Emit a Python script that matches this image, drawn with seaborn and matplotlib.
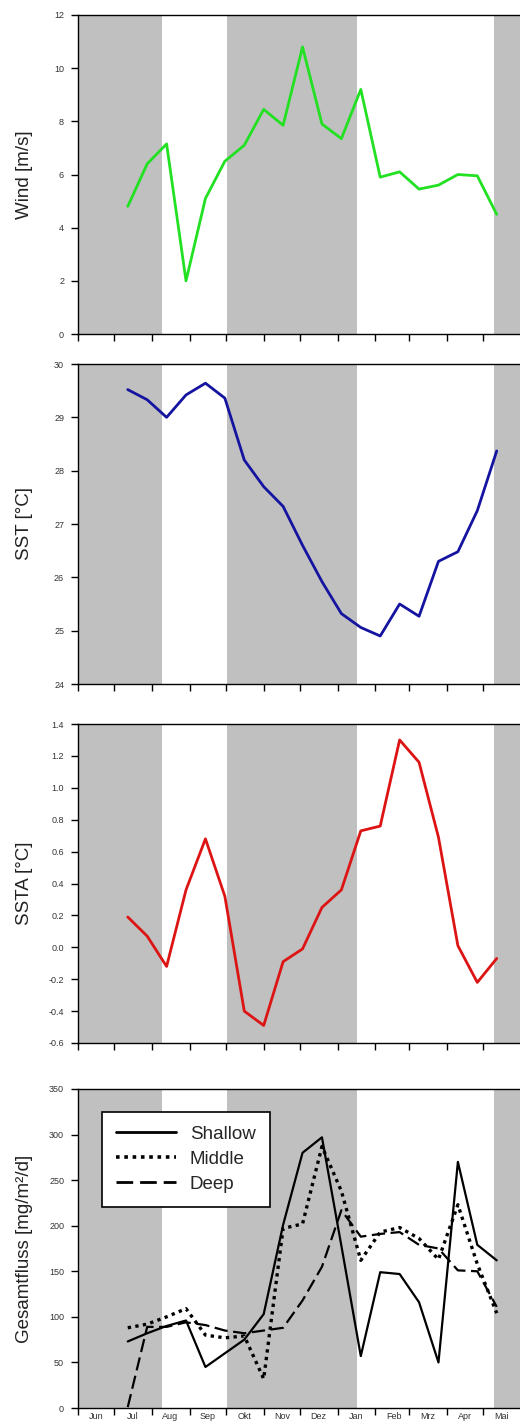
import matplotlib
matplotlib.use("Agg")
import matplotlib.pyplot as plt
import matplotlib.dates as mdates
from matplotlib.ticker import MultipleLocator, FormatStrFormatter, FuncFormatter
import numpy as np
import pandas as pd
import seaborn as sns

# ---------------- data ----------------
dates = ["2001-07-12", "2001-07-28", "2001-08-13", "2001-08-29", "2001-09-14",
         "2001-09-30", "2001-10-16", "2001-11-01", "2001-11-17", "2001-12-03",
         "2001-12-19", "2002-01-04", "2002-01-20", "2002-02-05", "2002-02-21",
         "2002-03-09", "2002-03-25", "2002-04-10", "2002-04-26", "2002-05-12"]

wind = [4.8, 6.4, 7.15, 2.0, 5.1, 6.5, 7.1, 8.45, 7.85, 10.8,
        7.9, 7.35, 9.2, 5.9, 6.1, 5.45, 5.6, 6.0, 5.95, 4.5]

sst = [29.52, 29.33, 29.0, 29.42, 29.64, 29.36, 28.2, 27.7, 27.33, 26.6,
       25.92, 25.32, 25.06, 24.9, 25.5, 25.27, 26.3, 26.48, 27.25, 28.37]

ssta = [0.19, 0.07, -0.12, 0.36, 0.68, 0.32, -0.40, -0.49, -0.09, -0.01,
        0.25, 0.36, 0.73, 0.76, 1.30, 1.16, 0.69, 0.01, -0.22, -0.07]

shallow = [73, 82, 90, 96, 45, 60, 75, 103, 201, 280,
           297, 178, 57, 149, 147, 116, 50, 270, 179, 162]
middle = [88, 92, 100, 109, 80, 77, 79, 32, 197, 202,
          287, 238, 162, 193, 198, 186, 163, 223, 158, 104]
deep = [1, 89, 89, 94, 91, 85, 82, 85, 88, 118,
        155, 217, 188, 191, 193, 179, 175, 151, 150, 111]

depth_names = ["Shallow", "Middle", "Deep"]
month_labels = ["Jan", "Feb", "Mrz", "Apr", "Mai", "Jun",
                "Jul", "Aug", "Sep", "Okt", "Nov", "Dez"]

# shaded seasons (start, end)
shade_periods = [("2001-06-01", "2001-08-09"),
                 ("2001-10-02", "2002-01-17"),
                 ("2002-05-10", "2002-06-01")]

x_range = ("2001-06-01", "2002-06-01")

ylabels = ["Wind [m/s]", "SST [°C]", "SSTA [°C]", "Gesamtfluss [mg/m²/d]"]

# ---------------- style ----------------
sns.set_style("ticks")
plt.rcParams["font.family"] = ["Liberation Sans", "DejaVu Sans"]
plt.rcParams["axes.linewidth"] = 1.0

W, H = 520, 1426
fig = plt.figure(figsize=(W / 100, H / 100), dpi=100)

# axes boxes in pixels (top, bottom)
boxes = [(15, 334), (364, 684), (724, 1043), (1089, 1408)]
left_px = 78
width_px = 443
axes = []
for top, bot in boxes:
    ax = fig.add_axes([left_px / W, (H - bot) / H, width_px / W, (bot - top) / H])
    axes.append(ax)

dt = pd.to_datetime(dates)
xmin, xmax = pd.to_datetime(x_range[0]), pd.to_datetime(x_range[1])

def style_axis(ax, show_labels):
    for s, e in shade_periods:
        ax.axvspan(pd.to_datetime(s), pd.to_datetime(e), color="#c0c0c0", lw=0, zorder=0)
    ax.set_xlim(xmin, xmax)
    ax.spines["right"].set_visible(False)
    for sp in ["left", "bottom", "top"]:
        ax.spines[sp].set_color("black")
        ax.spines[sp].set_linewidth(1.0)
        ax.spines[sp].set_zorder(5)
    ax.xaxis.set_major_locator(mdates.MonthLocator())
    ax.xaxis.set_major_formatter(plt.NullFormatter())
    ax.tick_params(axis="both", which="major", direction="out", length=5,
                   width=1.0, color="black", labelsize=6.5, labelcolor="#333333")
    ax.tick_params(axis="y", pad=5)
    if show_labels:
        ax.xaxis.set_minor_locator(mdates.MonthLocator(bymonthday=16))
        ax.xaxis.set_minor_formatter(
            FuncFormatter(lambda v, p: month_labels[mdates.num2date(v).month - 1]))
        ax.tick_params(axis="x", which="minor", length=0, labelsize=6.5,
                       labelcolor="#333333", pad=3)
    else:
        ax.xaxis.set_minor_locator(plt.NullLocator())
    ax.set_xlabel("")
    ax.set_facecolor("white")
    ax.grid(False)

# Panel 1: wind
ax = axes[0]
sns.lineplot(x=dt, y=wind, ax=ax, color="#22e022", lw=2.0, estimator=None)
ax.set_ylim(0, 12)
ax.yaxis.set_major_locator(MultipleLocator(2))
ax.yaxis.set_major_formatter(FormatStrFormatter("%d"))
style_axis(ax, False)

# Panel 2: SST
ax = axes[1]
sns.lineplot(x=dt, y=sst, ax=ax, color="#1414a0", lw=2.0, estimator=None)
ax.set_ylim(24, 30)
ax.yaxis.set_major_locator(MultipleLocator(1))
ax.yaxis.set_major_formatter(FormatStrFormatter("%d"))
style_axis(ax, False)

# Panel 3: SSTA
ax = axes[2]
sns.lineplot(x=dt, y=ssta, ax=ax, color="#dd1414", lw=2.0, estimator=None)
ax.set_ylim(-0.6, 1.4)
ax.yaxis.set_major_locator(MultipleLocator(0.2))
ax.yaxis.set_major_formatter(FormatStrFormatter("%.1f"))
style_axis(ax, False)

# Panel 4: flux
ax = axes[3]
df = pd.DataFrame({
    "date": np.concatenate([dt, dt, dt]),
    "flux": shallow + middle + deep,
    "depth": np.repeat(depth_names, len(dates)),
})
dash_map = {"Shallow": "", "Middle": (1.0, 1.3), "Deep": (6.0, 2.5)}
sns.lineplot(data=df, x="date", y="flux", style="depth", style_order=depth_names,
             dashes=dash_map, color="black", lw=1.6, ax=ax, estimator=None)
# thicker square dots for the middle series
line_widths = {"Shallow": 1.6, "Middle": 2.4, "Deep": 1.6}
for ln, name in zip(ax.lines[:3], depth_names):
    ln.set_linewidth(line_widths[name])
    if name != "Shallow":
        ln.set_dashes(dash_map[name])
ax.set_ylim(0, 350)
ax.yaxis.set_major_locator(MultipleLocator(50))
ax.yaxis.set_major_formatter(FormatStrFormatter("%d"))
style_axis(ax, True)
handles, labels = ax.get_legend_handles_labels()
leg_widths = {"Shallow": 2.0, "Middle": 2.6, "Deep": 2.0}
for h, lab in zip(handles, labels):
    h.set_linewidth(leg_widths.get(lab, 2.0))
    if lab in ("Middle", "Deep"):
        h.set_dashes(dash_map[lab])
leg = ax.legend(handles, labels, loc="upper left",
                bbox_to_anchor=(0.0535, 0.929), borderaxespad=0,
                frameon=True, fancybox=False, shadow=False, framealpha=1,
                edgecolor="black", fontsize=13.5, handlelength=3.2,
                handletextpad=0.75, labelspacing=0.42, borderpad=0.75)
leg.get_frame().set_linewidth(1.2)

for ax, lab in zip(axes, ylabels):
    ax.set_ylabel(lab, fontsize=13.5, color="#222222")
    ax.yaxis.set_label_coords(-0.102, 0.5)

fig.savefig("out.png", dpi=100, facecolor="white")
